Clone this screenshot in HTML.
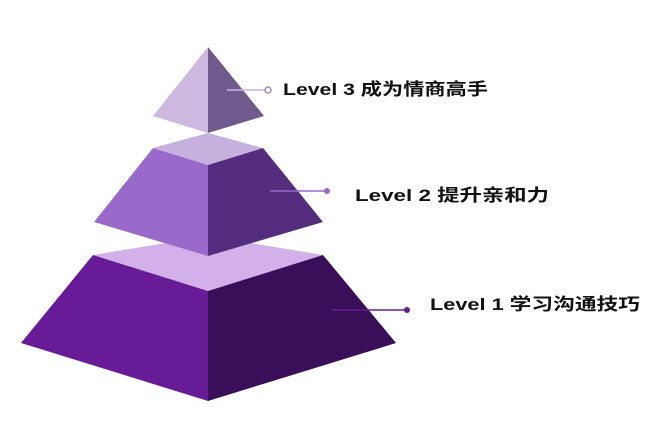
<!DOCTYPE html>
<html><head><meta charset="utf-8"><style>
html,body{margin:0;padding:0;background:#fff;width:662px;height:426px;overflow:hidden}
text{font-family:"Liberation Sans","Noto Sans CJK SC",sans-serif;font-weight:bold;fill:#111}
</style></head><body>
<svg width="662" height="426" viewBox="0 0 662 426" xmlns="http://www.w3.org/2000/svg">
<!-- bottom tier -->
<polygon points="93,255 208,236 323,255 208,291" fill="#d3b0ea"/>
<polygon points="93,255 208,291 208,401 21,343" fill="#681b96"/>
<polygon points="323,255 208,291 208,401 396,343" fill="#3a0f5a"/>
<!-- middle tier -->
<polygon points="153,148 208,133 263,148 208,165" fill="#c6b0de"/>
<polygon points="153,148 208,165 208,256 94,222" fill="#9a6acb"/>
<polygon points="263,148 208,165 208,256 323,222" fill="#552d7f"/>
<!-- top -->
<polygon points="208,47 153,116 208,133" fill="#cdb8e0"/>
<polygon points="208,47 264,116 208,133" fill="#6e5a8c"/>
<!-- connectors -->
<line x1="227" y1="90" x2="266" y2="90" stroke="#c9b4dc" stroke-width="1.5"/>
<circle cx="268" cy="90" r="3" fill="#fff" stroke="#a088b8" stroke-width="1.5"/>
<line x1="270" y1="191" x2="325" y2="191" stroke="#9a6acb" stroke-width="1.5"/>
<circle cx="327" cy="191" r="3" fill="#9a6acb"/>
<line x1="332" y1="310" x2="405" y2="310" stroke="#681b96" stroke-width="1.5"/>
<circle cx="407" cy="310" r="3" fill="#681b96"/>
<text x="283" y="95" font-size="17" textLength="205" lengthAdjust="spacingAndGlyphs">Level 3 成为情商高手</text>
<text x="355" y="201" font-size="17" textLength="194" lengthAdjust="spacingAndGlyphs">Level 2 提升亲和力</text>
<text x="430" y="310" font-size="17" textLength="210" lengthAdjust="spacingAndGlyphs">Level 1 学习沟通技巧</text>
</svg>
</body></html>
